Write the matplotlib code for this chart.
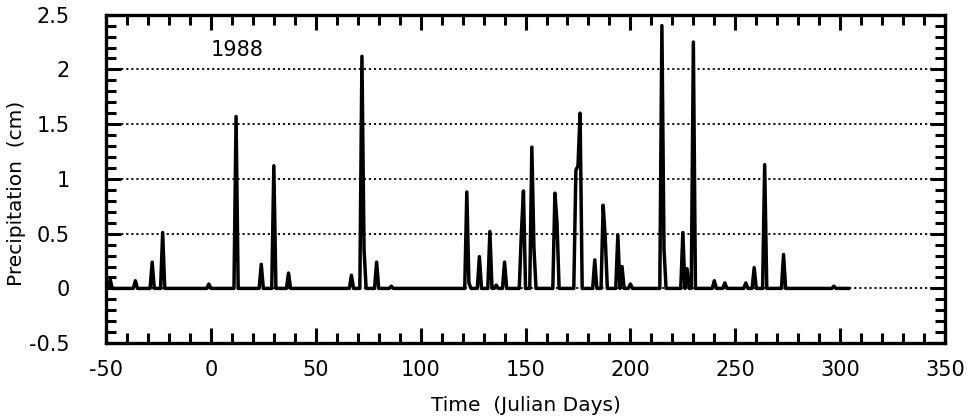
import numpy as np
import matplotlib
matplotlib.use("Agg")
import matplotlib.pyplot as plt
from matplotlib.ticker import MultipleLocator, FuncFormatter

plt.rcParams["font.family"] = ["DejaVu Sans"]
plt.rcParams["axes.unicode_minus"] = False

# daily record, Julian days -50 .. 304; only the rain days are listed
first_day = -50
last_day = 304
rain_days = [-48, -36, -28, -23, -1, 12, 24, 30, 37, 67, 72, 73, 79, 86,
             122, 123, 128, 133, 136, 140, 148, 149, 153, 154, 164, 165,
             174, 175, 176, 183, 187, 188, 194, 196, 200, 215, 216, 225,
             227, 230, 240, 245, 255, 259, 264, 273, 297]
rain_cm = [0.08, 0.07, 0.24, 0.51, 0.04, 1.57, 0.22, 1.12, 0.14, 0.12, 2.12, 0.36, 0.24, 0.02,
           0.88, 0.05, 0.29, 0.52, 0.03, 0.24, 0.50, 0.89, 1.29, 0.37, 0.87, 0.60,
           1.08, 1.12, 1.60, 0.26, 0.76, 0.46, 0.49, 0.20, 0.04, 2.40, 0.36, 0.51,
           0.18, 2.25, 0.07, 0.05, 0.05, 0.19, 1.13, 0.31, 0.02]
grid_levels = [0, 0.5, 1.0, 1.5, 2.0]
year_label = "1988"

days = np.arange(first_day, last_day + 1)
precip = np.zeros(len(days))
for d, v in zip(rain_days, rain_cm):
    precip[d - first_day] = v

fig = plt.figure(figsize=(9.7, 4.19), dpi=100)
ax = fig.add_axes([0.1093, 0.181, 0.865, 0.784])

for g in grid_levels:
    ax.axhline(g, color="black", linewidth=1.3, linestyle=(0, (1.2, 1.6)), zorder=1)

ax.plot(days, precip, color="black", linewidth=2.5, zorder=3)

ax.set_xlim(-50, 350)
ax.set_ylim(-0.5, 2.5)
ax.xaxis.set_major_locator(MultipleLocator(50))
ax.xaxis.set_minor_locator(MultipleLocator(10))
ax.yaxis.set_major_locator(MultipleLocator(0.5))
ax.yaxis.set_minor_locator(MultipleLocator(0.1))
ax.yaxis.set_major_formatter(FuncFormatter(lambda v, p: "%g" % v))

ax.tick_params(which="both", direction="in", top=True, right=True, width=2.2, colors="black")
ax.tick_params(which="major", length=11, labelsize=15)
ax.tick_params(axis="x", which="major", pad=12)
ax.tick_params(axis="y", which="major", pad=26)
ax.tick_params(which="minor", length=7)
for s in ax.spines.values():
    s.set_linewidth(2.4)

ax.text(0, 2.18, year_label, fontsize=15, ha="left", va="center")
ax.set_xlabel("Time  (Julian Days)", fontsize=14.5)
ax.set_ylabel("Precipitation  (cm)", fontsize=14.5)
ax.xaxis.set_label_coords(0.5, -0.16)
ax.yaxis.set_label_coords(-0.095, 0.457)

fig.savefig("out.png", dpi=100)
